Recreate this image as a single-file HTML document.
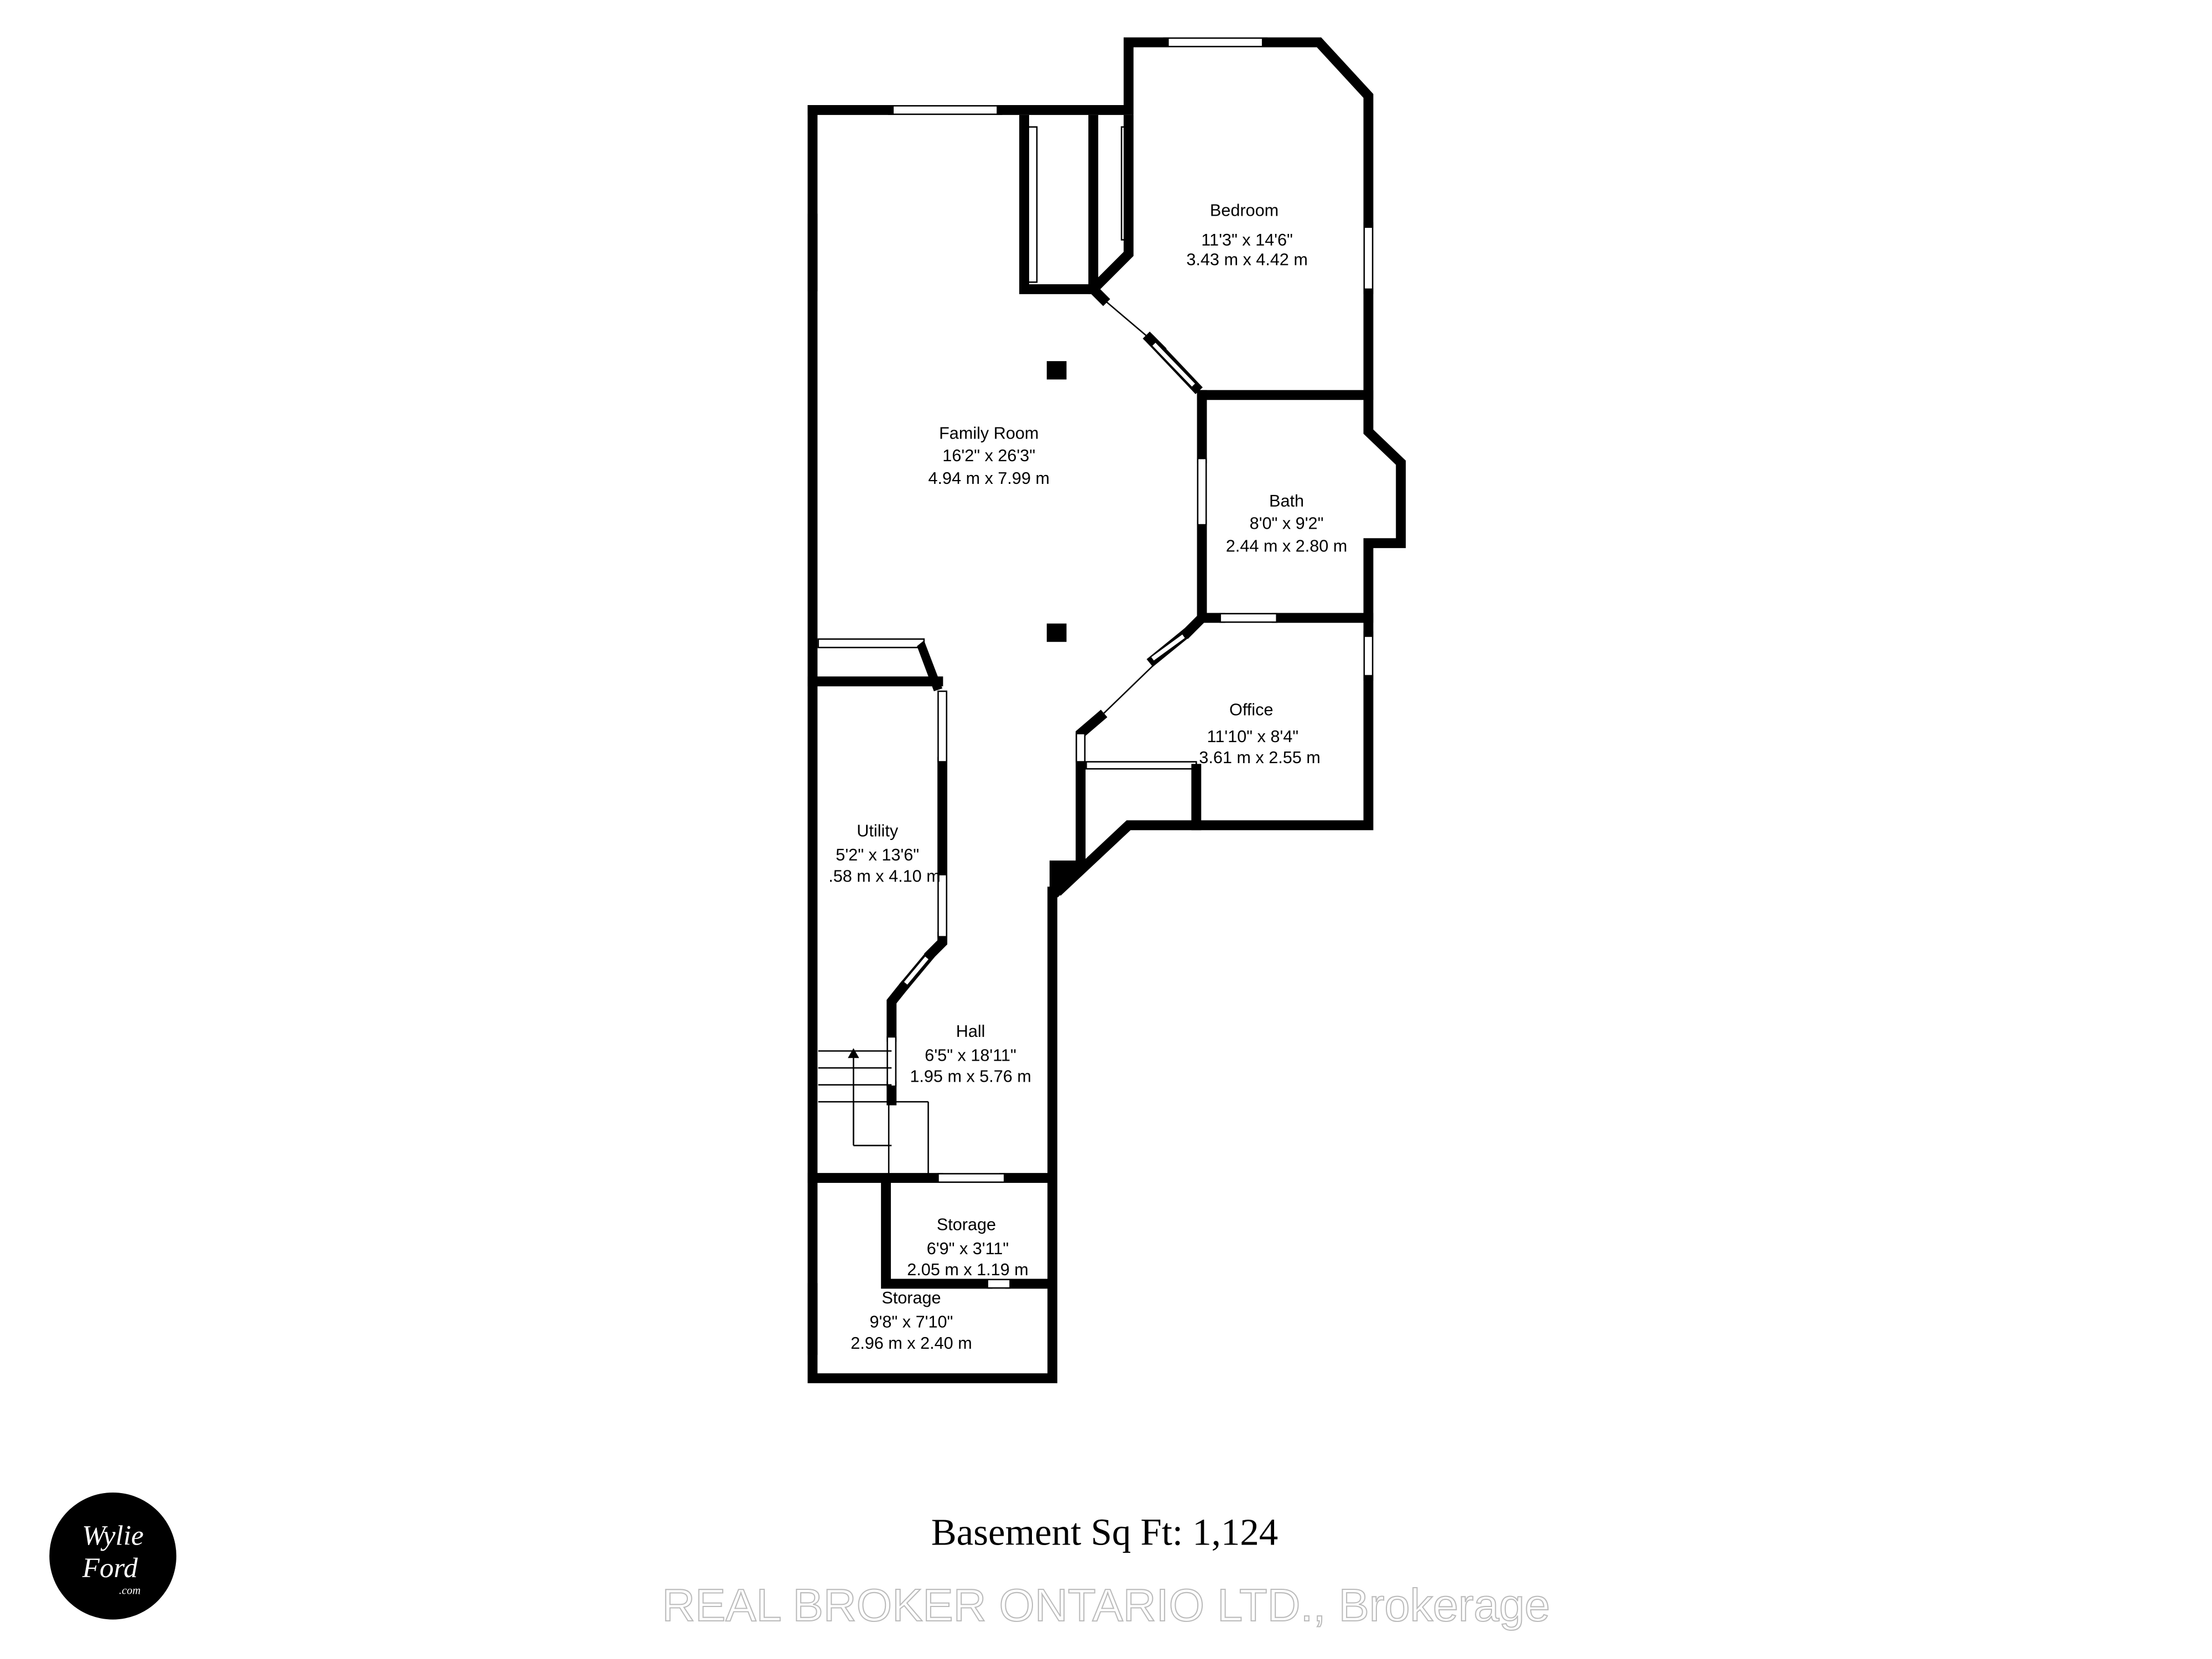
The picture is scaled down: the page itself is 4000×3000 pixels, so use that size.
<!DOCTYPE html>
<html><head><meta charset="utf-8"><style>
html,body{margin:0;padding:0;background:#fff;}
svg{display:block;}
</style></head><body>
<svg width="4000" height="3000" viewBox="0 0 1568 1176" xmlns="http://www.w3.org/2000/svg">
<rect width="1568" height="1176" fill="#fff"/>
<g fill="none" stroke="#000" stroke-width="7" stroke-linejoin="miter" stroke-linecap="square">
<path d="M576,78 V977 H746 V632"/>
<path d="M576,78 H630"/>
<path d="M710,78 H800 V30 H825"/>
<path d="M898,30 H935 L970,68 V158"/>
<path d="M970,208 V280 H852"/>
<path d="M970,280 V306 L993,328 V385 H970 V438 H905"/>
<path d="M865,438 H852 V372"/>
<path d="M852,325 V280"/>
<path d="M970,438 V448"/>
<path d="M970,482 V585 H800 L752,630"/>
<path d="M766,610 V520 L780,508"/>
<path d="M852,438 L842,448"/>
<path d="M848,545 V585"/>
<path d="M775,205 L782,212"/>
<path d="M815,240 L822,247"/>
<path d="M726,85 V205 H775 L800,180 V85"/>
<path d="M775,205 V85"/>
<path d="M576,483 H665"/>
<path d="M668,540 V620"/>
<path d="M668,664 V668 L660,676"/>
<path d="M640,700 L632,710 V735"/>
<path d="M632,780 V770"/>
<path d="M576,835 H665"/>
<path d="M712,835 H746"/>
<path d="M628,840 V910 H700"/>
<path d="M716,910 H746"/>
</g>
<g fill="#fff" stroke="#000" stroke-width="1">
<rect x="665" y="620" width="6" height="44"/>
<rect x="629" y="735" width="6" height="35"/>
<rect x="849" y="325" width="6" height="47"/>
<rect x="865" y="435" width="40" height="6"/>
<rect x="665" y="832" width="47" height="6"/>
<rect x="700" y="907" width="16" height="6"/>
<rect x="665" y="490" width="6" height="50"/>
<rect x="763" y="520" width="6" height="20"/>
</g>
<polygon points="655,454 668,488 662,490 650,458" fill="#000"/>
<polygon points="744,610 765,610 765,620 750,636 744,636" fill="#000"/>
<rect x="742" y="256" width="14" height="13" fill="#000"/>
<rect x="742" y="442" width="14" height="13" fill="#000"/>
<g fill="none" stroke="#000" stroke-width="1">
<rect x="630" y="75" width="80" height="6"/>
<rect x="825" y="27" width="73" height="6"/>
<rect x="967" y="158" width="6" height="50"/>
<rect x="967" y="448" width="6" height="34"/>
<rect x="573" y="152" width="6" height="54"/>
<rect x="573" y="910" width="6" height="50"/>
<rect x="580" y="453" width="75" height="6"/>
<rect x="770" y="540" width="78" height="5"/>
<rect x="729" y="90" width="6" height="110"/>
<rect x="795" y="90" width="6" height="80"/>
<line x1="782" y1="212" x2="815" y2="240"/>
<line x1="780" y1="508" x2="842" y2="448"/>
</g>
<g stroke="#000" stroke-width="7"><line x1="815" y1="240" x2="850" y2="277"/><line x1="815" y1="470" x2="842" y2="448"/><line x1="640" y1="700" x2="660" y2="676"/></g>
<g stroke="#fff" stroke-width="3"><line x1="818" y1="244" x2="846" y2="273"/><line x1="817" y1="467" x2="839" y2="451"/><line x1="642" y1="697" x2="657" y2="679"/></g>
<g fill="none" stroke="#000" stroke-width="1">
<path d="M580,745 H632 M580,757 H632 M580,769 H632 M580,781 H658 M605,781 V812 M630,781 V835 M658,781 V835 M605,812 H632"/>
<line x1="605" y1="750" x2="605" y2="810"/>
</g>
<polygon points="601,750 609,750 605,743" fill="#000"/>
<g font-family="'Liberation Sans',sans-serif" font-size="12" fill="#000" text-anchor="middle">
<text x="882" y="153">Bedroom</text><text x="884" y="174">11'3" x 14'6"</text><text x="884" y="188">3.43 m x 4.42 m</text>
<text x="701" y="311">Family Room</text><text x="701" y="327">16'2" x 26'3"</text><text x="701" y="343">4.94 m x 7.99 m</text>
<text x="912" y="359">Bath</text><text x="912" y="375">8'0" x 9'2"</text><text x="912" y="391">2.44 m x 2.80 m</text>
<text x="887" y="507">Office</text><text x="888" y="526">11'10" x 8'4"</text><text x="893" y="541">3.61 m x 2.55 m</text>
<text x="622" y="593">Utility</text><text x="622" y="610">5'2" x 13'6"</text><text x="627" y="625">.58 m x 4.10 m</text>
<text x="688" y="735">Hall</text><text x="688" y="752">6'5" x 18'11"</text><text x="688" y="767">1.95 m x 5.76 m</text>
<text x="685" y="872">Storage</text><text x="686" y="889">6'9" x 3'11"</text><text x="686" y="904">2.05 m x 1.19 m</text>
<text x="646" y="924">Storage</text><text x="646" y="941">9'8" x 7'10"</text><text x="646" y="956">2.96 m x 2.40 m</text>
</g>
<text x="783" y="1095" font-family="'Liberation Serif',serif" font-size="27" text-anchor="middle" fill="#000">Basement Sq Ft: 1,124</text>
<text x="784" y="1149" font-family="'Liberation Sans',sans-serif" font-size="32.5" text-anchor="middle" fill="#fff" stroke="#bbb" stroke-width="0.8">REAL BROKER ONTARIO LTD., Brokerage</text>
<circle cx="80" cy="1103" r="45" fill="#000"/>
<g font-family="'Liberation Serif',serif" font-style="italic" fill="#fff" text-anchor="middle">
<text x="80" y="1095" font-size="20">Wylie</text>
<text x="78" y="1118" font-size="20">Ford</text>
<text x="92" y="1130" font-size="8">.com</text>
</g>
</svg>
</body></html>
